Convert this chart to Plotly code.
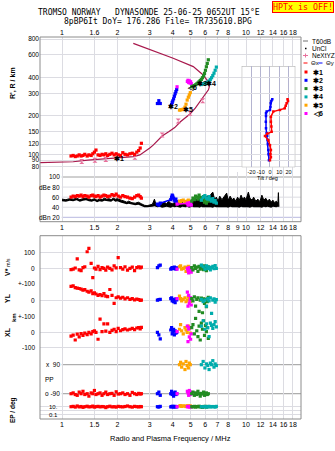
import math
import plotly.graph_objects as go

# ---------------- data ----------------
top_tick_vals = [1, 1.5, 2, 3, 4, 5, 6, 7, 8, 10, 12, 14, 16, 18]
top_tick_text = ["1", "1.6", "2", "3", "4", "5", "6", "7", "8", "10", "12", "14", "16", "18"]
mid_tick_vals = [1, 1.5, 2, 3, 4, 5, 6, 7, 8, 9, 10, 12, 14, 16, 18]
mid_tick_text = ["1", "1.5", "2", "3", "4", "5", "6", "7", "8", "9", "10", "12", "14", "16", "18"]
bot_tick_vals = [1, 1.5, 2, 3, 4, 5, 6, 7, 8, 10, 12, 14, 16, 18]
bot_tick_text = ["1", "1.5", "2", "3", "4", "5", "6", "7", "8", "10", "12", "14", "16", "18"]
height_ticks = [80, 90, 100, 120, 150, 200, 300, 400, 600, 800]
dbe_ticks = [20, 40, 60, 80, 100]
dbe_tick_text = ["dBn 20", "40", "60", "dBe 80", "100"]
tilt_ticks = [-20, -10, 0, 10, 20]

# NeXtYZ plasma-frequency profile (MHz, km)
prof_f = [0.76, 0.95, 1.15, 1.38, 1.7, 2.1, 2.45, 2.65, 2.8, 3.0, 3.13, 3.3, 3.5, 3.8, 4.1, 4.4,
          4.7, 4.96, 5.3, 5.62, 5.9, 6.11, 6.25, 6.32, 6.24, 5.85, 5.17, 4.02, 3.41, 3.0, 2.44]
prof_h = [86, 86.5, 87.5, 90, 92, 94, 96, 99, 104, 112, 118, 127, 139, 150, 162, 180,
          195, 207, 230, 258, 280, 300, 320, 338, 370, 418, 486, 565, 618, 668, 740]
nex_mark_f = [1.28, 1.51, 1.73, 2.49, 3.5, 4.28, 4.96, 5.82]
nex_mark_h = [88, 90, 91, 95, 142, 182, 210, 263]

# echo trace 1 (red)
red_f = [1.12, 1.15, 1.18, 1.21, 1.24, 1.27, 1.30, 1.33, 1.37, 1.40, 1.44, 1.47, 1.50, 1.53, 1.57, 1.61,
         1.65, 1.69, 1.73, 1.77, 1.82, 1.87, 1.92, 1.97, 2.02, 2.08, 2.14, 2.20, 2.27, 2.34, 2.41, 2.48,
         2.55, 2.61, 2.66, 2.70]
red_h = [97, 98, 96, 97, 99, 97, 98, 100, 97, 99, 98, 101, 104, 108, 99, 98, 100, 99, 101, 98, 100, 102,
         99, 101, 99, 98, 103, 100, 99, 101, 102, 100, 104, 107, 112, 122]
red_amp = [60, 62, 61, 63, 62, 64, 61, 63, 62, 60, 63, 64, 62, 61, 63, 60, 62, 64, 63, 61, 62, 65, 63, 66,
           62, 60, 63, 61, 60, 58, 57, 60, 63, 64, 61, 58]
red_v = [-8, -5, 2, 60, -10, -15, 5, 10, 106, 128, 32, -60, 2, -5, 12, -8, 5, 0, -12, 8, 0, -10, 15, 3,
         68, 5, -5, 10, -12, 0, 8, -15, 5, 10, 3, 8]
red_yl = [85, 88, 78, 75, 72, 68, 62, 65, 55, 50, 58, 40, 45, 38, 30, 35, 28, 40, 25, 22, 66, 30, -20, 15,
          20, 12, 18, 8, 15, 5, 10, 2, 6, 4, -2, 0]
red_xl = [-25, -18, -50, -12, -30, -8, -20, -5, -15, 0, -10, 5, 10, 0, -45, 86, 5, 55, 8, 55, 0, 12, 20, 5,
          25, 10, 18, 22, 15, 20, 25, 18, 28, 30, 22, 32]
red_pp = [-90, -85, -95, -100, -80, -90, -75, -95, -90, -105, -85, -90, -70, -95, -90, -85, -100, -90, -80,
          -95, -90, -88, -100, -78, -92, -90, -85, -95, -90, -100, -82, -90, -95, -88, -92, -90]
red_ep = [10, 12, 8, 15, 9, 11, 7, 10, 13, 9, 10, 14, 8, 10, 12, 9, 11, 10, 6, 10, 13, 9, 10, 8, 12, 10,
          9, 11, 15, 10, 8, 12, 10, 9, 11, 10]

# echo trace 2 (blue)
blue_f = [3.30, 3.36, 3.42, 3.90, 3.94, 3.97, 4.00, 4.04, 4.08, 4.12, 4.16, 4.20]
blue_h = [250, 263, 250, 238, 245, 255, 262, 272, 285, 298, 310, 322]
blue_amp = [46, 44, 48, 55, 60, 64, 62, 58, 54, 52, 56, 51]
blue_v = [5, 15, 20, -5, 0, 5, -3, 2, 8, 0, -5, 3]
blue_yl = [0, 3, 5, 10, 15, -5, 5, -10, 0, -16, 8, 2]
blue_xl = [0, -17, -43, 15, 30, -10, 5, 20, -17, 10, -5, 0]
blue_pp = [-90, -80, -100, -90, -75, -95, -85, -105, -90, -80, -95, -90]
blue_ep = [10, 8, 12, 9, 11, 10, 13, 8, 10, 12, 9, 10]

# echo trace 3 (green)
green_f = [5.07, 5.15, 5.24, 5.32, 5.40, 5.48, 5.56, 5.64, 5.72, 5.80, 5.88, 5.95, 6.02, 6.09, 6.16, 6.24]
green_h = [338, 342, 346, 350, 356, 362, 370, 378, 386, 398, 412, 430, 455, 485, 515, 550]
green_amp = [52, 58, 55, 62, 60, 56, 64, 59, 54, 57, 61, 50, 53, 48, 55, 52]
green_v = [5, -10, 15, 0, 8, -20, 12, -5, 10, 3, -8, 15, 0, -15, 5, 10]
green_yl = [10, -5, 20, -37, 5, 15, -69, 0, 12, -78, 8, -20, 5, -40, -10, 18]
green_xl = [30, 50, -10, 90, 10, -28, 40, -50, 60, 20, 75, -20, 45, 5, 30, -40]
green_pp = [-90, -80, -100, -85, -95, -75, -90, -105, -88, -92, -80, -100, -90, -85, -95, -90]
green_ep = [10, 9, 12, 8, 11, 10, 13, 9, 10, 7, 11, 10, 12, 9, 10, 11]

# echo trace 4 (cyan)
cyan_f = [5.72, 5.85, 5.98, 6.10, 6.20, 6.30, 6.40, 6.50, 6.60, 6.70, 6.80, 6.90]
cyan_h = [352, 356, 360, 364, 368, 375, 385, 398, 414, 432, 455, 482]
cyan_amp = [54, 60, 63, 58, 56, 61, 55, 52, 57, 50, 53, 48]
cyan_v = [20, 10, -5, 15, 0, 8, -10, 5, 12, -3, 18, 0]
cyan_yl = [5, -10, 0, -37, 10, -5, 15, -82, 0, 8, -12, 3]
cyan_xl = [40, 75, 20, 55, 30, -28, 60, 45, 25, 50, 70, 35]
cyan_pp = [90, 110, 70, 95, 85, 60, 100, 90, 115, 75, 95, 85]
cyan_ep = [10, 9, 11, 8, 10, 12, 9, 10, 11, 10, 8, 12]

# echo trace 5 (orange)
orange_f = [4.35, 4.41, 4.47, 4.56, 4.66, 4.72, 4.79, 4.86, 4.92, 4.98]
orange_h = [222, 223, 224, 226, 234, 247, 266, 280, 292, 304]
orange_amp = [52, 50, 53, 54, 51, 49, 52, 54, 50, 48]
orange_v = [10, 15, -5, 0, 8, -20, 5, 12, -10, 0]
orange_yl = [25, 10, -5, 5, 15, -10, 0, 20, 5, -8]
orange_xl = [20, 50, 10, -10, 30, 15, 0, 40, 25, -5]
orange_pp = [90, 105, 75, 95, 60, 110, 85, 70, 100, 90]
orange_ep = [15, 18, 12, 16, 14, 11, 17, 15, 13, 16]

# echo trace 6 (magenta)
mag_f = [4.22, 4.80, 4.84, 4.88, 4.92, 4.96, 5.00, 5.04]
mag_h = [338, 372, 380, 365, 376, 362, 370, 358]
mag_amp = [46, 48, 44, 47, 45, 49, 46, 44]
mag_v = [-5, 0, -15, -30, 5, -20, -10, -25]
mag_yl = [10, 50, -37, 30, -20, 0, 15, -30]
mag_xl = [5, 40, -60, 20, -30, 30, -45, -10]
mag_pp = [-90, -75, -85, -100, -70, -95, -80, -90]
mag_ep = [10, 11, 9, 12, 10, 8, 11, 10]

# noise (dB)
noise_f = [1.00, 1.05, 1.10, 1.15, 1.20, 1.25, 1.30, 1.35, 1.40, 1.45, 1.50, 1.55, 1.60, 1.65, 1.70, 1.75,
           1.80, 1.85, 1.90, 1.95, 2.00, 2.05, 2.10, 2.15, 2.20, 2.25, 2.30, 2.40, 2.50, 2.60, 2.70, 2.80,
           2.90, 3.00, 3.10, 3.18, 3.25,
           3.3, 3.4, 3.5, 3.6, 3.7, 3.8, 3.9, 4.0, 4.1, 4.2, 4.3, 4.4, 4.5, 4.6, 4.7, 4.8, 4.9, 5.0, 5.1,
           5.2, 5.3, 5.4, 5.5, 5.6, 5.7, 5.8, 5.9, 6.0,
           6.15, 6.30, 6.45, 6.60, 6.75, 6.90, 7.05, 7.20,
           7.40, 7.60, 7.85, 8.00, 8.20, 8.40, 8.60, 8.80, 9.00, 9.20, 9.40, 9.60, 9.80,
           10.0, 10.3, 10.5, 10.8, 11.0, 11.3, 11.6, 11.9, 12.2, 12.5, 12.8, 13.1, 13.4, 13.7, 14.0, 14.3,
           14.6, 14.9, 15.0, 15.1]
noise_hi = [56, 55, 57, 56, 58, 55, 57, 58, 56, 55, 57, 54, 56, 55, 58, 56, 57, 55, 58, 56,
            57, 55, 54, 53, 51, 50, 52, 49, 48, 50, 47, 44, 43, 44, 46, 56, 44,
            47, 46, 48, 50, 47, 52, 48, 47, 50, 46, 49, 47, 50, 47, 52, 49, 54, 50, 56, 52, 58, 54, 60, 55,
            62, 56, 60, 55,
            63, 57, 66, 70, 56, 60, 52, 62,
            55, 60, 68, 54, 62, 55, 58, 52, 60, 54, 64, 56, 60,
            55, 70, 58, 54, 60, 52, 56, 51, 64, 54, 58, 52, 56, 50, 54, 49, 52, 48, 69, 41]
noise_lo = [52, 51, 53, 52, 54, 51, 53, 54, 52, 51, 53, 50, 52, 51, 53, 52, 52, 51, 54, 51,
            52, 50, 49, 48, 47, 46, 47, 45, 44, 45, 43, 40, 40, 40, 41, 42, 40,
            40, 41, 39, 40, 41, 40, 39, 41, 40, 41, 40, 39, 41, 40, 40, 41, 39, 40, 41, 40,
            40, 41, 40, 39, 41, 40, 40, 41,
            40, 41, 40, 39, 41, 40, 40, 41,
            40, 41, 40, 39, 41, 40, 40, 41, 40, 39, 41, 40, 40,
            41, 40, 39, 41, 40, 40, 41, 40, 39, 41, 40, 41, 40, 39, 41, 40, 40, 41, 40, 41]

# tilt inset (height km vs tilt deg)
thx_h = [90, 95, 100, 108, 118, 129, 139, 145, 150, 165, 180, 197, 216, 222, 229, 240, 251, 262, 270]
thx = [0, 1, 0.5, 1, 0, -1.8, -5.4, -3, 1.8, 1.5, 1, 1, 3.6, 10.8, 16, 17, 18, 19.5, 19]
thy_h = [90, 100, 108, 120, 130, 140, 146, 160, 180, 200, 210, 216, 222, 235, 251, 262, 270]
thy = [-1.1, -1.5, -1.8, -2.2, -2.5, -3, -3.6, -4.3, -4.5, -4.3, -4.3, -3.6, 0, 0.5, 0.8, 1.5, 2.5]

# echo labels in height panel
lab_text = ["✱1", "✱2", "✱5", "◁6", "✱3", "✱4"]
lab_f = [2.04, 4.02, 4.86, 5.07, 5.75, 6.43]
lab_h = [93.5, 239, 226, 329, 360, 360]

# ---------------- layout helpers ----------------
W, H = 335, 451
ML, MR, MT, MB = 40, 34, 37, 32
PW, PH = W - ML - MR, H - MT - MB


def px(x):
    return (x - ML) / PW


def py(y):
    return (H - MB - y) / PH


XR = [-22 / 184, 239 / 184]
LOG80 = math.log10(80)


def hlog(ypix):
    return LOG80 + (166.7 - ypix) / 127.7


FONT = "Arial"
MONO = "DejaVu Sans Mono"
GRID = "#dcdce2"
FRAME = "#8c8c8c"
RED, BLUE, GREEN, CYAN, ORANGE, MAG = "#ff0000", "#0000ff", "#228b22", "#00acac", "#ffa500", "#ff00ff"
PROF = "#a8184c"
PINK = "#e8709c"
TF = dict(family=FONT, size=7, color="black")

fig = go.Figure()

# noise
fig.add_trace(go.Scatter(x=noise_f, y=noise_lo, xaxis="x2", yaxis="y2", mode="lines",
                         line=dict(width=0, color="black"), hoverinfo="skip"))
fig.add_trace(go.Scatter(x=noise_f, y=noise_hi, xaxis="x2", yaxis="y2", mode="lines", fill="tonexty",
                         fillcolor="black", line=dict(width=1, color="black")))

# profile
fig.add_trace(go.Scatter(x=prof_f, y=prof_h, xaxis="x", yaxis="y", mode="lines",
                         line=dict(color=PROF, width=1.2)))
fig.add_trace(go.Scatter(x=nex_mark_f, y=nex_mark_h, xaxis="x", yaxis="y", mode="markers",
                         marker=dict(symbol="hourglass", size=5, color=PINK, line=dict(width=0))))

echoes = [
    (RED, red_f, red_h, red_amp, red_v, red_yl, red_xl, red_pp, red_ep),
    (BLUE, blue_f, blue_h, blue_amp, blue_v, blue_yl, blue_xl, blue_pp, blue_ep),
    (ORANGE, orange_f, orange_h, orange_amp, orange_v, orange_yl, orange_xl, orange_pp, orange_ep),
    (MAG, mag_f, mag_h, mag_amp, mag_v, mag_yl, mag_xl, mag_pp, mag_ep),
    (GREEN, green_f, green_h, green_amp, green_v, green_yl, green_xl, green_pp, green_ep),
    (CYAN, cyan_f, cyan_h, cyan_amp, cyan_v, cyan_yl, cyan_xl, cyan_pp, cyan_ep),
]
for col, f, h, amp, v, yl, xl, pp, ep in echoes:
    mk = dict(symbol="square", size=3.2, color=col, line=dict(width=0))
    fig.add_trace(go.Scatter(x=f, y=h, xaxis="x", yaxis="y", mode="markers", marker=mk))
    fig.add_trace(go.Scatter(x=f, y=amp, xaxis="x2", yaxis="y2", mode="lines+markers", marker=mk,
                             line=dict(color=col, width=1.5)))
    for vals, ya in [(v, "y3"), (yl, "y4"), (xl, "y5"), (pp, "y6"), (ep, "y7")]:
        fig.add_trace(go.Scatter(x=f, y=vals, xaxis="x3", yaxis=ya, mode="markers", marker=mk))

# tilt inset
fig.add_trace(go.Scatter(x=thy, y=thy_h, xaxis="x4", yaxis="y8", mode="lines+markers",
                         line=dict(color=BLUE, width=1.5), marker=dict(symbol="square", size=2.5, color=BLUE)))
fig.add_trace(go.Scatter(x=thx, y=thx_h, xaxis="x4", yaxis="y8", mode="lines+markers",
                         line=dict(color=RED, width=1.5), marker=dict(symbol="square", size=2.5, color=RED)))

# ---------------- axes ----------------
common_x = dict(type="log", range=XR, domain=[0, 1], showgrid=True, gridcolor=GRID, gridwidth=1,
                zeroline=False, showline=False, ticks="", tickfont=TF, automargin=False, tickangle=0)
lay = dict(
    width=W, height=H, margin=dict(l=ML, r=MR, t=MT, b=MB, pad=0),
    paper_bgcolor="white", plot_bgcolor="white", showlegend=False,
    xaxis=dict(common_x, anchor="y", side="top", tickvals=top_tick_vals, ticktext=top_tick_text),
    xaxis2=dict(common_x, anchor="y2", side="bottom", matches="x", tickvals=mid_tick_vals,
                ticktext=mid_tick_text),
    xaxis3=dict(common_x, anchor="y7", side="bottom", matches="x", tickvals=bot_tick_vals,
                ticktext=bot_tick_text),
    yaxis=dict(type="log", range=[hlog(172), hlog(37)], domain=[py(172), py(37)], anchor="x",
               tickvals=height_ticks, ticktext=[str(t) for t in height_ticks], showgrid=True,
               gridcolor=GRID, zeroline=False, ticks="", tickfont=dict(family=FONT, size=6.5, color="black"),
               automargin=False),
    yaxis2=dict(range=[20 - 4.4 * 1.985, 100 + 5 * 1.985], domain=[py(221.7), py(172)], anchor="x2",
                showgrid=False, showticklabels=False, zeroline=False, ticks=""),
    yaxis3=dict(range=[-100.6, 209], domain=[py(284), py(235.7)], anchor="x3", tickvals=[-100, 0, 100],
                showgrid=True, gridcolor=GRID, showticklabels=False, zeroline=False, ticks=""),
    yaxis4=dict(range=[-100, 100], domain=[py(316.3), py(284)], anchor="x3", tickvals=[-100, 0],
                showgrid=True, gridcolor=GRID, showticklabels=False, zeroline=False, ticks=""),
    yaxis5=dict(range=[-154, 104], domain=[py(356), py(316.3)], anchor="x3", tickvals=[-100, 0],
                showgrid=True, gridcolor=GRID, showticklabels=False, zeroline=False, ticks=""),
    yaxis6=dict(range=[-129, 144], domain=[py(400), py(356)], anchor="x3", showgrid=False,
                showticklabels=False, zeroline=False, ticks=""),
    yaxis7=dict(type="log", range=[-2.075, 2.675], domain=[0, py(400)], anchor="x3",
                tickvals=[0.1, 1, 10], showgrid=True, gridcolor=GRID, showticklabels=False,
                zeroline=False, ticks=""),
    xaxis4=dict(range=[-30.6, 27.4], domain=[px(241.7), px(295.3)], anchor="y8", tickvals=tilt_ticks,
                ticktext=[str(t) for t in tilt_ticks], tickfont=dict(family=FONT, size=5.5, color="black"),
                tickangle=0, showgrid=True, gridcolor="#b4b4d0", zeroline=False, ticks="", showline=False,
                automargin=False),
    yaxis8=dict(type="log", range=[hlog(167.3), hlog(66)], domain=[py(167.3), py(66)], anchor="x4",
                tickvals=height_ticks, showgrid=True, gridcolor=GRID, showticklabels=False,
                zeroline=False, ticks="", automargin=False),
)
fig.update_layout(**lay)

# ---------------- shapes ----------------
shapes = []
shapes.append(dict(type="rect", xref="x4", yref="y8", x0=-30.6, x1=27.4,
                   y0=10 ** hlog(167.3), y1=10 ** hlog(66), fillcolor="white",
                   line=dict(color="#a0a0a0", width=1), layer="below"))
for t in dbe_ticks:
    c = "#a0a0a0" if t == 100 else ("#b8b8e0" if t == 20 else GRID)
    shapes.append(dict(type="line", xref="paper", yref="y2", x0=px(61.7), x1=1, y0=t, y1=t,
                       line=dict(color=c, width=1), layer="below"))
for t in [90, -90]:
    shapes.append(dict(type="line", xref="paper", yref="y6", x0=px(61.7), x1=1, y0=t, y1=t,
                       line=dict(color="#9a9a9a", width=1), layer="below"))
shapes.append(dict(type="rect", xref="paper", yref="paper", x0=0, x1=1, y0=py(221.7), y1=1,
                   line=dict(color=FRAME, width=1), fillcolor="rgba(0,0,0,0)", layer="above"))
shapes.append(dict(type="rect", xref="paper", yref="paper", x0=0, x1=1, y0=0, y1=py(235.7),
                   line=dict(color=FRAME, width=1), fillcolor="rgba(0,0,0,0)", layer="above"))
# legend symbols
shapes.append(dict(type="line", xref="paper", yref="paper", x0=px(303), x1=px(308), y0=py(41), y1=py(41),
                   line=dict(color="#a0a0a0", width=1.5)))
shapes.append(dict(type="rect", xref="paper", yref="paper", x0=px(305), x1=px(306.5), y0=py(49.2),
                   y1=py(47.8), fillcolor="black", line=dict(width=0)))
shapes.append(dict(type="line", xref="paper", yref="paper", x0=px(303), x1=px(308), y0=py(55.5),
                   y1=py(55.5), line=dict(color=PINK, width=1)))
shapes.append(dict(type="line", xref="paper", yref="paper", x0=px(305.5), x1=px(305.5), y0=py(53.5),
                   y1=py(57.5), line=dict(color=PINK, width=1)))
shapes.append(dict(type="line", xref="paper", yref="paper", x0=px(303.5), x1=px(307.5), y0=py(63),
                   y1=py(63), line=dict(color=RED, width=1)))
shapes.append(dict(type="line", xref="paper", yref="paper", x0=px(318.5), x1=px(322.5), y0=py(63),
                   y1=py(63), line=dict(color=BLUE, width=1)))
leg_cols = [RED, BLUE, GREEN, CYAN, ORANGE, MAG]
leg_txt = ["✱1", "✱2", "✱3", "✱4", "✱5", "◁6"]
leg_y = [72, 80.3, 88.6, 96.9, 105.2, 113.5]
for c, yy in zip(leg_cols, leg_y):
    shapes.append(dict(type="rect", xref="paper", yref="paper", x0=px(304.5), x1=px(307.5),
                       y0=py(yy + 1.5), y1=py(yy - 1.5), fillcolor=c, line=dict(width=0)))
fig.update_layout(shapes=shapes)

# ---------------- annotations ----------------
anns = []


def A(text, x, y, size=7, xanchor="center", yanchor="middle", xref="paper", yref="paper",
      color="black", family=FONT, angle=0, **kw):
    d = dict(text=text, x=x, y=y, xref=xref, yref=yref, xanchor=xanchor, yanchor=yanchor,
             showarrow=False, font=dict(family=family, size=size, color=color), textangle=angle)
    d.update(kw)
    anns.append(d)


A("TROMSO NORWAY   DYNASONDE 25-06-25 0652UT 15°E", px(149), py(12.5), size=8, family=MONO)
A("8pBP6It DoY= 176.286 File= TR735610.BPG", px(157.5), py(21.3), size=8, family=MONO)
A("HPTx is OFF!", px(302.5), py(7.2), size=8.3, family=MONO, color="red", bgcolor="#ffff00",
  bordercolor="red", borderwidth=1, borderpad=0)

A("<b>R', R / km</b>", px(13), py(83), size=7, angle=-90)
A("<b>V*</b> <span style='font-size:5px'>m/s</span>", px(7), py(267), size=7, angle=-90)
A("<b>YL</b>", px(7), py(298), size=7, angle=-90)
A("<b>km</b>", px(14), py(318), size=6, angle=-90)
A("<b>XL</b>", px(7), py(332), size=7, angle=-90)
A("<b>EP / deg</b>", px(13), py(410), size=6.5, angle=-90)
A("Radio and Plasma Frequency / MHz", px(170), py(438.7), size=7.5)
A("Tilt / deg", px(267), py(177.5), size=5.5)

for t, s in zip(dbe_ticks, dbe_tick_text):
    A(s, px(61.5), t, xanchor="right", yref="y2", size=6.5)
for t, s in [(100, "100"), (0, "0"), (-100, "+-100")]:
    A(s, px(37), t, xanchor="right", yref="y3", size=6.5)
for t, s in [(0, "0"), (-100, "+-100")]:
    A(s, px(37), t, xanchor="right", yref="y4", size=6.5)
for t, s in [(0, "0"), (-100, "-100")]:
    A(s, px(37), t, xanchor="right", yref="y5", size=6.5)
A("x  90", px(61.5), 90, xanchor="right", yref="y6", size=6.5)
A("o -90", px(61.5), -90, xanchor="right", yref="y6", size=6.5)
A("PP", px(42.5), py(379), xanchor="left", size=6.5)
for t, s in [(10, "10."), (0.1, "0.1")]:
    A(s, px(46.5), math.log10(t), xanchor="left", yref="y7", size=6)

for s, f, h in zip(lab_text, lab_f, lab_h):
    A("<b>" + s + "</b>", math.log10(f), math.log10(h), xref="x", yref="y", size=7)

A("T60dB", px(309.5), py(41), xanchor="left", size=6.5)
A("UnCl", px(309.5), py(48.5), xanchor="left", size=6.5)
A("NeXtYZ", px(309.5), py(55.5), xanchor="left", size=6.5)
A("Θx", px(308.5), py(63), xanchor="left", size=6)
A("Θy", px(323.5), py(63), xanchor="left", size=6)
for s, yy in zip(leg_txt, leg_y):
    A("<b>" + s + "</b>", px(310.5), py(yy), xanchor="left", size=7)

fig.update_layout(annotations=anns)
fig.write_html("out.html")
